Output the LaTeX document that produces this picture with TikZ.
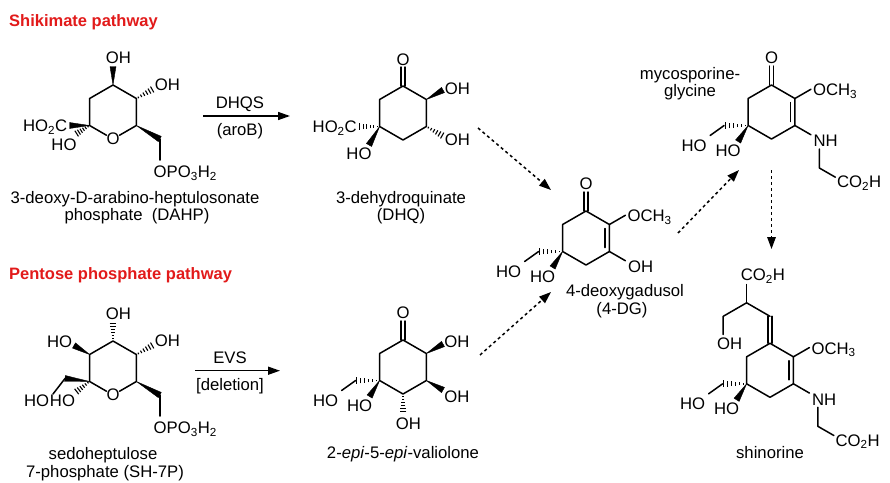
\documentclass[tikz,border=0pt]{standalone}
\usepackage{fontspec}
\setmainfont{Liberation Sans}
\usetikzlibrary{calc,arrows.meta}
\definecolor{titlered}{RGB}{226,26,26}
\tikzset{
 bond/.style={line width=1.5pt, line cap=round, line join=round},
 lbl/.style={inner sep=0pt, text height=11.8pt, text depth=0pt, font=\fontsize{16.7}{19}\selectfont},
 ttl/.style={inner sep=0pt, text height=11.8pt, text depth=0pt, anchor=west, font=\fontsize{16.5}{19}\selectfont\bfseries, text=titlered},
 rxn/.style={line width=1.5pt, -{Triangle[length=12pt,width=8pt]}},
 dotrxn/.style={line width=1.5pt, dash pattern=on 3pt off 3pt, -{Triangle[length=12pt,width=8.5pt]}},
}
% wedge bond: narrow at #1, wide at #2
\newcommand\wdg[2]{\filldraw[line width=0.4pt,line join=round] (#1) -- ($(#2)!3pt!90:(#1)$) -- ($(#2)!3pt!-90:(#1)$) -- cycle;}
% hashed bond: narrow at #1, wide at #2
\newcommand\hsh[2]{%
 \foreach \hI in {1,...,6}{%
  \pgfmathsetmacro\hT{(\hI-0.3)/6}%
  \pgfmathsetmacro\hW{0.5+3.0*\hT}%
  \draw[line width=1.1pt] ($(#1)!\hT!(#2)!\hW pt!90:(#2)$) -- ($(#1)!\hT!(#2)!\hW pt!-90:(#2)$);
 }}
% CH2OH (hashed) + OH (wedge) at a lower-left ring carbon
\newcommand\hoho[1]{%
 \coordinate (#1h) at ($(#1)+(-24,0)$);
 \coordinate (#1l) at ($(#1)+(-38,10)$);
 \coordinate (#1w) at ($(#1)+(-10,16)$);
 \hsh{#1}{#1h}
 \draw[bond] (#1h) -- (#1l);
 \wdg{#1}{#1w}
 \node[lbl] (#1ha) at ($(#1)+(-54,20)$) {HO};
 \node[lbl] (#1hb) at ($(#1)+(-20,25)$) {HO};
}
\begin{document}
\begin{tikzpicture}[x=1pt,y=-1pt]
\useasboundingbox (0,0) rectangle (890,482);
\fill[white] (0,0) rectangle (890,482);

% ---------------- titles
\node[ttl] (t1) at (9,21) {Shikimate pathway};
\node[ttl] (t2) at (9,274) {Pentose phosphate pathway};

% ---------------- DAHP
\coordinate (a1) at (113,85);
\coordinate (a2) at (136.4,98.5);
\coordinate (a3) at (136.4,125.5);
\coordinate (aO) at (113,139);
\coordinate (a5) at (89.6,125.5);
\coordinate (a6) at (89.6,98.5);
\node[lbl] (aOt) at (aO) {O};
\coordinate (aOr) at ($(aO)+(6.5,-3.75)$);
\coordinate (aOl) at ($(aO)+(-6.5,-3.75)$);
\draw[bond] (aOl) -- (a5) -- (a6) -- (a1) -- (a2) -- (a3) -- (aOr);
\coordinate (a1e) at (113,66.5);
\wdg{a1}{a1e}
\node[lbl] (aOH1) at (118.3,57.3) {OH};
\coordinate (a2e) at (153,89);
\hsh{a2}{a2e}
\node[lbl] (aOH2) at (167.5,85) {OH};
\coordinate (a3e) at (159.8,139);
\coordinate (a3f) at (159.8,160);
\wdg{a3}{a3e}
\draw[bond] (a3e) -- (a3f);
\node[lbl,anchor=west] (aP) at (153.5,172) {OPO\textsubscript{3}H\textsubscript{2}};
\coordinate (a5e) at (69.5,125.5);
\wdg{a5}{a5e}
\node[lbl,anchor=east] (aCOOH) at (67.5,126) {HO\textsubscript{2}C};
\coordinate (a5h) at (76,134);
\hsh{a5}{a5h}
\node[lbl] (aHO) at (64,145) {HO};
\node[lbl] (acap1) at (135,198) {3-deoxy-D-arabino-heptulosonate};
\node[lbl] (acap2) at (137,215) {phosphate~ (DAHP)};

% ---------------- DHQS arrow
\coordinate (r1s) at (203,116);
\coordinate (r1e) at (290,116);
\draw[rxn] (r1s) -- (r1e);
\node[lbl] (r1a) at (240,102.5) {DHQS};
\node[lbl] (r1b) at (240,130) {(aroB)};

% ---------------- DHQ
\coordinate (b1) at (403,86);
\coordinate (b2) at (426.4,99.5);
\coordinate (b3) at (426.4,126.5);
\coordinate (b4) at (403,140);
\coordinate (b5) at (379.6,126.5);
\coordinate (b6) at (379.6,99.5);
\draw[bond] (b1) -- (b2) -- (b3) -- (b4) -- (b5) -- (b6) -- cycle;
\coordinate (b1o) at (403,67);
\draw[bond] ($(b1)+(-2.2,0)$) -- ($(b1o)+(-2.2,0)$);
\draw[bond] ($(b1)+(2.2,0)$) -- ($(b1o)+(2.2,0)$);
\node[lbl] (bO) at (403,60) {O};
\coordinate (b2e) at (443,90);
\wdg{b2}{b2e}
\node[lbl] (bOH1) at (457.5,88.3) {OH};
\coordinate (b3e) at (443,136);
\hsh{b3}{b3e}
\node[lbl] (bOH2) at (457.5,140) {OH};
\coordinate (b5h) at (358.5,126.5);
\hsh{b5}{b5h}
\node[lbl,anchor=east] (bCOOH) at (357,127) {HO\textsubscript{2}C};
\coordinate (b5w) at (369,145);
\wdg{b5}{b5w}
\node[lbl] (bHO) at (359,153.3) {HO};
\node[lbl] (bcap1) at (401,198) {3-dehydroquinate};
\node[lbl] (bcap2) at (401,215) {(DHQ)};

% ---------------- dotted arrows
\coordinate (p1s) at (478,128);
\coordinate (p1e) at (551,190);
\draw[dotrxn] (p1s) -- (p1e);
\coordinate (p2s) at (480,355);
\coordinate (p2e) at (551,292);
\draw[dotrxn] (p2s) -- (p2e);
\coordinate (p3s) at (678,233);
\coordinate (p3e) at (739,170);
\draw[dotrxn] (p3s) -- (p3e);
\coordinate (p4s) at (771.5,170);
\coordinate (p4e) at (771.5,249);
\draw[dotrxn] (p4s) -- (p4e);

% ---------------- 4-DG
\coordinate (d1) at (586,211);
\coordinate (d2) at (609.4,224.5);
\coordinate (d3) at (609.4,251.5);
\coordinate (d4) at (586,265);
\coordinate (d5) at (562.6,251.5);
\coordinate (d6) at (562.6,224.5);
\draw[bond] (d1) -- (d2) -- (d3) -- (d4) -- (d5) -- (d6) -- cycle;
\draw[bond] ($(d2)+(-4.5,4)$) -- ($(d3)+(-4.5,-4)$);
\coordinate (d1o) at (586,192);
\draw[bond] ($(d1)+(-2.2,0)$) -- ($(d1o)+(-2.2,0)$);
\draw[bond] ($(d1)+(2.2,0)$) -- ($(d1o)+(2.2,0)$);
\node[lbl] (dO) at (586,184) {O};
\coordinate (d2e) at ($(d2)+(16,-9.25)$);
\draw[bond] (d2) -- (d2e);
\node[lbl,anchor=west] (dOMe) at ($(d2)+(18,-8.5)$) {OCH\textsubscript{3}};
\coordinate (d3e) at ($(d3)+(16,9.25)$);
\draw[bond] (d3) -- (d3e);
\node[lbl,anchor=west] (dOH) at ($(d3)+(18.5,15.5)$) {OH};
\hoho{d5}
\node[lbl] (dcap1) at (625,291) {4-deoxygadusol};
\node[lbl] (dcap2) at (622,308.5) {(4-DG)};

% ---------------- mycosporine-glycine
\coordinate (m1) at (771.5,85);
\coordinate (m2) at (794.9,98.5);
\coordinate (m3) at (794.9,125.5);
\coordinate (m4) at (771.5,139);
\coordinate (m5) at (748.1,125.5);
\coordinate (m6) at (748.1,98.5);
\draw[bond] (m1) -- (m2) -- (m3) -- (m4) -- (m5) -- (m6) -- cycle;
\draw[bond] ($(m2)+(-4.5,4)$) -- ($(m3)+(-4.5,-4)$);
\coordinate (m1o) at (771.5,66);
\draw[bond] ($(m1)+(-2.2,0)$) -- ($(m1o)+(-2.2,0)$);
\draw[bond] ($(m1)+(2.2,0)$) -- ($(m1o)+(2.2,0)$);
\node[lbl] (mO) at (771.5,58) {O};
\coordinate (m2e) at ($(m2)+(16,-9.25)$);
\draw[bond] (m2) -- (m2e);
\node[lbl,anchor=west] (mOMe) at ($(m2)+(18,-8.5)$) {OCH\textsubscript{3}};
\coordinate (m3e) at ($(m3)+(16,9.25)$);
\draw[bond] (m3) -- (m3e);
\node[lbl,anchor=west] (mNH) at ($(m3)+(18.5,15.5)$) {NH};
\coordinate (mn1) at ($(m3)+(24.45,23.5)$);
\coordinate (mn2) at ($(m3)+(24.45,42.5)$);
\coordinate (mn3) at ($(m3)+(40.45,51.7)$);
\draw[bond] (mn1) -- (mn2) -- (mn3);
\node[lbl,anchor=west] (mCOOH) at ($(m3)+(42,56.5)$) {CO\textsubscript{2}H};
\hoho{m5}
\node[lbl] (mcap1) at (690,74) {mycosporine-};
\node[lbl] (mcap2) at (690,91) {glycine};

% ---------------- shinorine
\coordinate (s1) at (770,343.3);
\coordinate (s2) at (793.4,356.8);
\coordinate (s3) at (793.4,383.8);
\coordinate (s4) at (770,397.3);
\coordinate (s5) at (746.6,383.8);
\coordinate (s6) at (746.6,356.8);
\draw[bond] (s1) -- (s2) -- (s3) -- (s4) -- (s5) -- (s6) -- cycle;
\draw[bond] ($(s2)+(-4.5,4)$) -- ($(s3)+(-4.5,-4)$);
\coordinate (sc) at (770,316.3);
\coordinate (sb) at (746.6,302.8);
\coordinate (sa) at (723.2,316.3);
\coordinate (sa2) at (723.2,334.5);
\coordinate (sb2) at (746.6,284.5);
\draw[bond] ($(s1)+(-2.2,0)$) -- ($(sc)+(-2.2,0)$);
\draw[bond] ($(s1)+(2.2,0)$) -- ($(sc)+(2.2,0)$);
\draw[bond] (sc) -- (sb) -- (sa) -- (sa2);
\draw[bond] (sb) -- (sb2);
\node[lbl,anchor=west] (sCOOHa) at (740.6,275) {CO\textsubscript{2}H};
\node[lbl,anchor=west] (sOHa) at (716.8,343.3) {OH};
\coordinate (s2e) at ($(s2)+(16,-9.25)$);
\draw[bond] (s2) -- (s2e);
\node[lbl,anchor=west] (sOMe) at ($(s2)+(18,-8.5)$) {OCH\textsubscript{3}};
\coordinate (s3e) at ($(s3)+(16,9.25)$);
\draw[bond] (s3) -- (s3e);
\node[lbl,anchor=west] (sNH) at ($(s3)+(18.5,15.5)$) {NH};
\coordinate (sn1) at ($(s3)+(24.45,23.5)$);
\coordinate (sn2) at ($(s3)+(24.45,42.5)$);
\coordinate (sn3) at ($(s3)+(40.45,51.7)$);
\draw[bond] (sn1) -- (sn2) -- (sn3);
\node[lbl,anchor=west] (sCOOHb) at ($(s3)+(42,56.5)$) {CO\textsubscript{2}H};
\hoho{s5}
\node[lbl] (scap) at (770,453) {shinorine};

% ---------------- SH-7P
\coordinate (h1) at (113,341);
\coordinate (h2) at (136.4,354.5);
\coordinate (h3) at (136.4,381.5);
\coordinate (hO) at (113,395);
\coordinate (h5) at (89.6,381.5);
\coordinate (h6) at (89.6,354.5);
\node[lbl] (hOt) at (hO) {O};
\coordinate (hOr) at ($(hO)+(6.5,-3.75)$);
\coordinate (hOl) at ($(hO)+(-6.5,-3.75)$);
\draw[bond] (hOl) -- (h5) -- (h6) -- (h1) -- (h2) -- (h3) -- (hOr);
\coordinate (h1e) at (113,322.5);
\hsh{h1}{h1e}
\node[lbl] (hOH1) at (118.3,314) {OH};
\coordinate (h2e) at (153,345);
\hsh{h2}{h2e}
\node[lbl] (hOH2) at (167.5,341) {OH};
\coordinate (h3e) at (159.8,395);
\coordinate (h3f) at (159.8,416);
\wdg{h3}{h3e}
\draw[bond] (h3e) -- (h3f);
\node[lbl,anchor=west] (hP) at (153.5,428) {OPO\textsubscript{3}H\textsubscript{2}};
\coordinate (h6e) at (74,345.5);
\wdg{h6}{h6e}
\node[lbl] (hHO1) at (59.7,341.5) {HO};
\coordinate (h5w) at (65,378.5);
\coordinate (h5l) at (53,394);
\wdg{h5}{h5w}
\draw[bond] (h5w) -- (h5l);
\coordinate (h5h) at (76,392);
\hsh{h5}{h5h}
\node[lbl] (hHO2) at (36.7,401) {HO};
\node[lbl] (hHO3) at (62.5,401) {HO};
\node[lbl] (hcap1) at (103,454) {sedoheptulose};
\node[lbl] (hcap2) at (105,471.5) {7-phosphate (SH-7P)};

% ---------------- EVS arrow
\coordinate (r2s) at (195,370.7);
\coordinate (r2e) at (280,370.7);
\draw[rxn] (r2s) -- (r2e);
\node[lbl] (r2a) at (230,357.5) {EVS};
\node[lbl] (r2b) at (230,385) {[deletion]};

% ---------------- 2-epi-5-epi-valiolone
\coordinate (v1) at (403,340);
\coordinate (v2) at (426.4,353.5);
\coordinate (v3) at (426.4,380.5);
\coordinate (v4) at (403,394);
\coordinate (v5) at (379.6,380.5);
\coordinate (v6) at (379.6,353.5);
\draw[bond] (v1) -- (v2) -- (v3) -- (v4) -- (v5) -- (v6) -- cycle;
\coordinate (v1o) at (403,321);
\draw[bond] ($(v1)+(-2.2,0)$) -- ($(v1o)+(-2.2,0)$);
\draw[bond] ($(v1)+(2.2,0)$) -- ($(v1o)+(2.2,0)$);
\node[lbl] (vO) at (403,313) {O};
\coordinate (v2e) at (443,344);
\wdg{v2}{v2e}
\node[lbl] (vOH1) at (457,341.7) {OH};
\coordinate (v3e) at (443,390);
\wdg{v3}{v3e}
\node[lbl] (vOH2) at (457,396.7) {OH};
\coordinate (v4e) at (403,412.5);
\hsh{v4}{v4e}
\node[lbl] (vOH3) at (408.3,423.3) {OH};
\hoho{v5}
\node[lbl] (vcap) at (403,453) {2-\textit{epi}-5-\textit{epi}-valiolone};

\end{tikzpicture}
\end{document}
